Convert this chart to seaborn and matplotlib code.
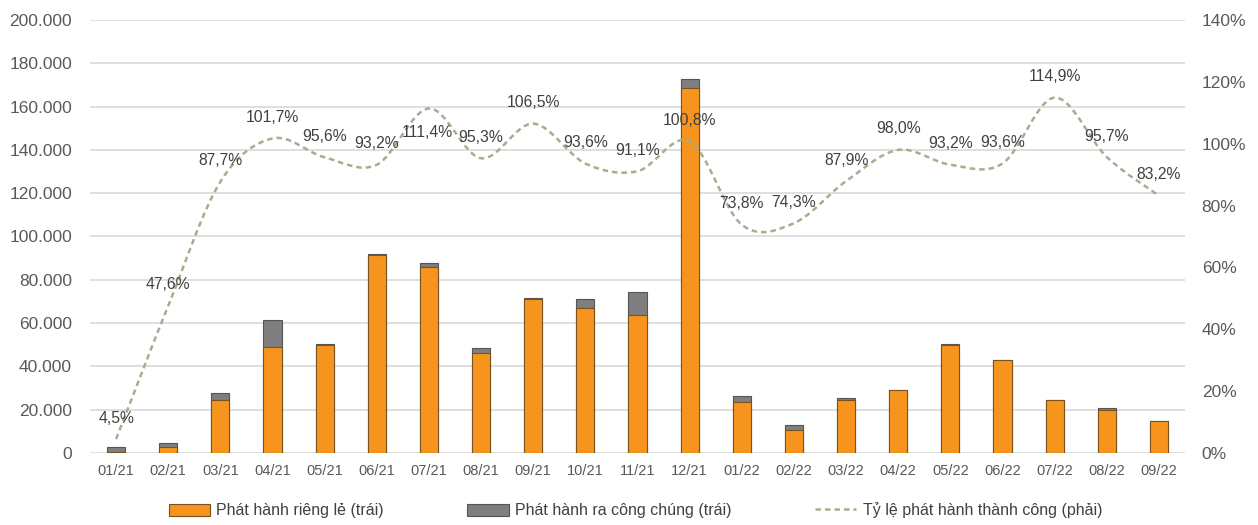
import numpy as np
import pandas as pd
import matplotlib
matplotlib.use("Agg")
import matplotlib.pyplot as plt
import seaborn as sns
from matplotlib.path import Path
from matplotlib.patches import PathPatch, Patch
from matplotlib.lines import Line2D
from matplotlib.ticker import FuncFormatter, MultipleLocator

months = ["01/21", "02/21", "03/21", "04/21", "05/21", "06/21", "07/21",
          "08/21", "09/21", "10/21", "11/21", "12/21", "01/22", "02/22",
          "03/22", "04/22", "05/22", "06/22", "07/22", "08/22", "09/22"]
private_issue = [600, 2800, 24500, 49000, 50000, 91500, 86000, 46200, 71300, 67000,
                 63700, 168600, 23600, 10600, 24500, 29000, 50000, 42800, 24300, 20000, 14600]
public_issue = [2000, 1800, 3200, 12400, 300, 300, 1700, 2300, 300, 4000,
                10700, 4200, 2700, 2300, 900, 100, 300, 200, 200, 800, 200]
success_rate = [4.5, 47.6, 87.7, 101.7, 95.6, 93.2, 111.4, 95.3, 106.5, 93.6,
                91.1, 100.8, 73.8, 74.3, 87.9, 98.0, 93.2, 93.6, 114.9, 95.7, 83.2]

legend_labels = ["Phát hành riêng lẻ (trái)", "Phát hành ra công chúng (trái)",
                 "Tỷ lệ phát hành thành công (phải)"]

ORANGE = "#F7941D"
ORANGE_EDGE = "#7a5220"
GREY = "#7f7f7f"
GREY_EDGE = "#555555"
LINE = "#a9ac8e"
TXT = "#404040"
TICK = "#595959"

sns.set_theme(style="white")
plt.rcParams["font.family"] = ["Liberation Sans", "DejaVu Sans"]

df = pd.DataFrame({"month": months,
                   "private": private_issue,
                   "public": public_issue,
                   "rate": success_rate})
df["total"] = df["private"] + df["public"]

fig = plt.figure(figsize=(12.58, 5.25), dpi=100)
ax = fig.add_axes([90 / 1258, 1 - 453 / 525, (1185 - 90) / 1258, (453 - 20) / 525])

sns.barplot(data=df, x="month", y="total", color=GREY, saturation=1, width=0.35,
            edgecolor=GREY_EDGE, linewidth=0.8, ax=ax, zorder=2)
sns.barplot(data=df, x="month", y="private", color=ORANGE, saturation=1, width=0.35,
            edgecolor=ORANGE_EDGE, linewidth=0.8, ax=ax, zorder=3)

ax.set_xlim(-0.5, len(months) - 0.5)
ax.set_ylim(0, 200000)
ax.yaxis.set_major_locator(MultipleLocator(20000))
ax.yaxis.set_major_formatter(FuncFormatter(lambda v, p: "0" if v == 0 else f"{int(v):,}".replace(",", ".")))
ax.grid(axis="y", color="#d9d9d9", linewidth=1.2, zorder=0)
ax.set_axisbelow(True)
for s in ax.spines.values():
    s.set_visible(False)
ax.set_xlabel("")
ax.set_ylabel("")
ax.tick_params(axis="y", length=0, pad=13, labelsize=12.5, labelcolor=TICK)
ax.tick_params(axis="x", length=0, pad=8, labelsize=10.5, labelcolor=TICK)

ax2 = ax.twinx()
ax2.set_ylim(0, 140)
ax2.set_xlim(-0.5, len(months) - 0.5)
ax2.yaxis.set_major_locator(MultipleLocator(20))
ax2.yaxis.set_major_formatter(FuncFormatter(lambda v, p: f"{int(v)}%"))
for s in ax2.spines.values():
    s.set_visible(False)
ax2.tick_params(axis="y", length=0, pad=12, labelsize=12.5, labelcolor=TICK)
ax2.grid(False)

# smoothed line (Excel-like cubic Bezier through the data points)
xs = np.arange(len(success_rate), dtype=float)
ys = np.array(success_rate, dtype=float)
pts = np.column_stack([xs, ys])
verts = [pts[0]]
codes = [Path.MOVETO]
n = len(pts)
for i in range(n - 1):
    p0 = pts[i - 1] if i > 0 else pts[i]
    p1 = pts[i]
    p2 = pts[i + 1]
    p3 = pts[i + 2] if i + 2 < n else pts[i + 1]
    c1 = p1 + (p2 - p0) / 6.0
    c2 = p2 - (p3 - p1) / 6.0
    verts += [c1, c2, p2]
    codes += [Path.CURVE4] * 3
path = Path(verts, codes)
ax2.add_patch(PathPatch(path, facecolor="none", edgecolor=LINE, linewidth=1.8,
                        linestyle=(0, (2.2, 1.6)), zorder=4))

# label offsets in pixels (label 07/21 sits below-left of the peak)
label_dy = [21] * len(success_rate)
label_dx = [0] * len(success_rate)
label_dy[6] = -24
label_dx[6] = -2
for xi, v, dx, dy in zip(xs, success_rate, label_dx, label_dy):
    ax2.annotate(f"{v:.1f}%".replace(".", ","), (xi, v), xytext=(dx, dy),
                 textcoords="offset pixels", ha="center", va="center",
                 fontsize=11.3, color=TXT, zorder=5)

handles = [Patch(facecolor=ORANGE, edgecolor=ORANGE_EDGE, linewidth=0.8),
           Patch(facecolor=GREY, edgecolor=GREY_EDGE, linewidth=0.8),
           Line2D([0], [0], color=LINE, linewidth=1.8, linestyle=(0, (2.2, 1.6)))]
fig.legend(handles, legend_labels, loc="center", bbox_to_anchor=(0.505, 0.028),
           ncol=3, frameon=False, fontsize=11.5, columnspacing=5.2,
           handlelength=2.6, handleheight=0.8, handletextpad=0.4, labelcolor=TXT)

fig.savefig("out.png", dpi=100)
